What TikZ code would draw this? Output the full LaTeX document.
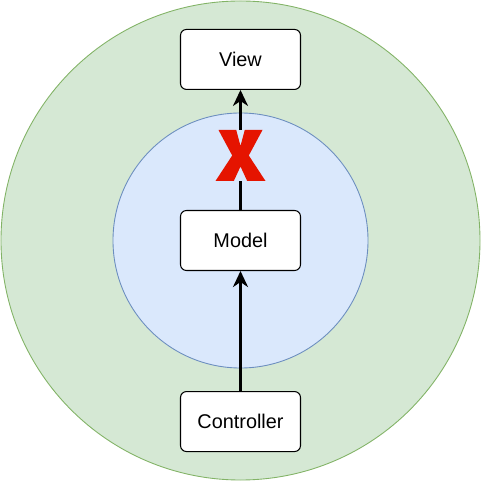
\documentclass[tikz,border=0pt]{standalone}
\usepackage{fontspec}
\setmainfont{Liberation Sans}
\usetikzlibrary{positioning,arrows.meta}
\definecolor{outergreen}{HTML}{D5E8D4}
\definecolor{outergreenline}{HTML}{82B366}
\definecolor{innerblue}{HTML}{DAE8FC}
\definecolor{innerblueline}{HTML}{6C8EBF}
\definecolor{crossred}{HTML}{E51400}
\begin{document}
\begin{tikzpicture}[box/.style={draw, fill=white, rounded corners=0.12cm, minimum width=2.4cm, minimum height=1.2cm,
          line width=0.6pt, font=\fontsize{11.3}{13}\selectfont},
          arrow/.style={-{Stealth[length=0.32cm, width=0.3cm, inset=0.1cm]}, line width=1.7pt}]
            \useasboundingbox (-4.81,-4.81) rectangle (4.81,4.81);
            % Layers
            \draw[fill=outergreen, draw=outergreenline, line width=0.5pt] (0,0) circle (4.79);
            \draw[fill=innerblue, draw=innerblueline, line width=0.5pt] (0,0) circle (2.55);
            % Components
            \node[box] (model) at (0,0) {Model};
            \node[box, above=2.4cm of model] (view) {View};
            \node[box, below=2.4cm of model] (controller) {Controller};
            \draw[arrow] (controller) -- (model);
            \draw[arrow] (model) -- (view);
            % Cross
            \node[fill=innerblue, minimum width=1cm, minimum height=1.02cm, inner sep=0] (cross) at (0,1.7) {};
            \fill[crossred, shift={(cross.center)}] (-0.44,0.51) -- (-0.085,0.51) -- (0,0.19) -- (0.085,0.51) -- (0.44,0.51)
                -- (0.166,0) -- (0.5,-0.51) -- (0.134,-0.51) -- (0,-0.22) -- (-0.134,-0.51) -- (-0.5,-0.51)
                -- (-0.166,0) -- cycle;
        \end{tikzpicture}
\end{document}
